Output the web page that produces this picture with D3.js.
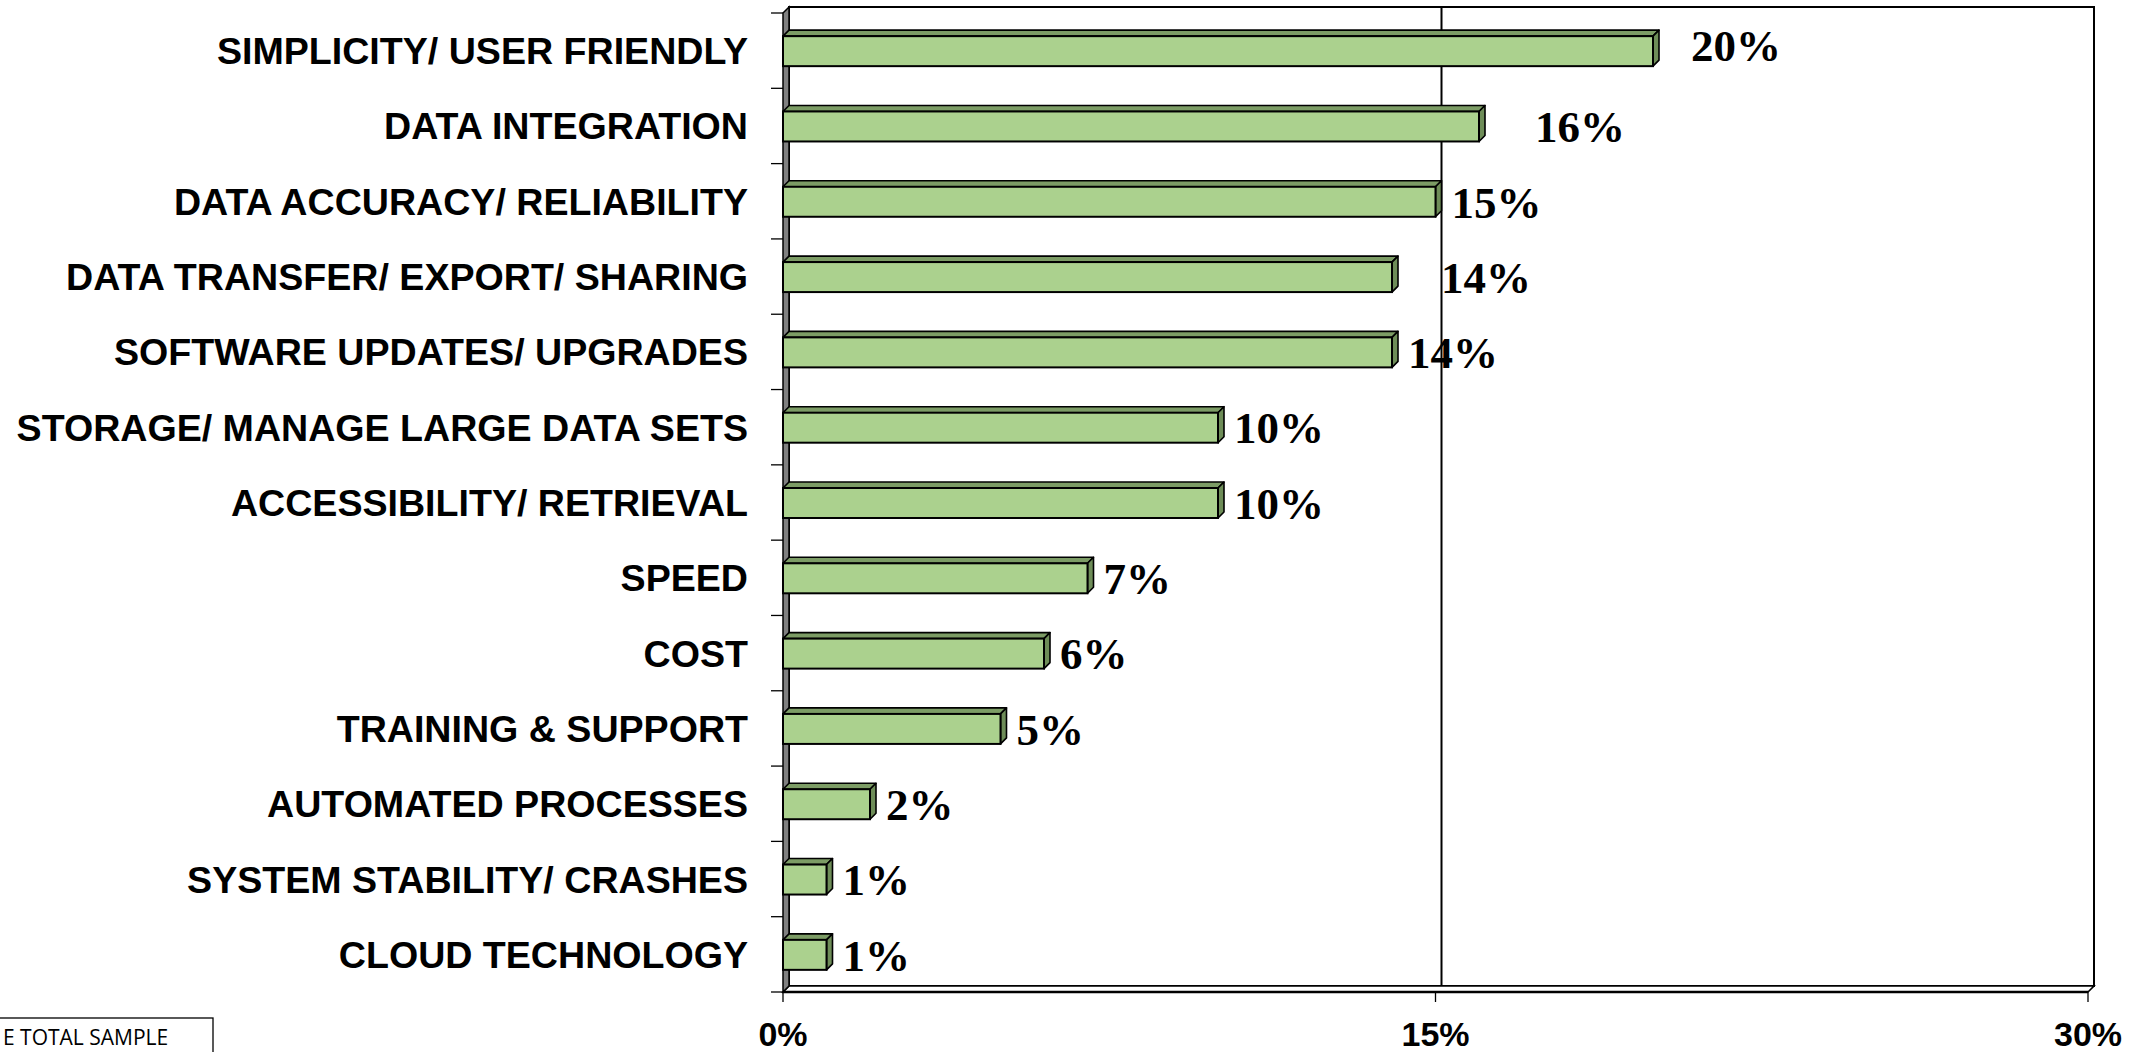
<!DOCTYPE html>
<html>
<head>
<meta charset="utf-8">
<script src="https://cdn.jsdelivr.net/npm/d3@7/dist/d3.min.js"></script>
<style>
  html, body { margin: 0; padding: 0; background: #ffffff; overflow: hidden; }
  svg { display: block; }
</style>
</head>
<body>
<svg id="chart" width="2138" height="1052"></svg>
<script>
// Reasons / attributes, top to bottom
const categories = [
  "SIMPLICITY/ USER FRIENDLY",
  "DATA INTEGRATION",
  "DATA ACCURACY/ RELIABILITY",
  "DATA TRANSFER/ EXPORT/ SHARING",
  "SOFTWARE UPDATES/ UPGRADES",
  "STORAGE/ MANAGE LARGE DATA SETS",
  "ACCESSIBILITY/ RETRIEVAL",
  "SPEED",
  "COST",
  "TRAINING & SUPPORT",
  "AUTOMATED PROCESSES",
  "SYSTEM STABILITY/ CRASHES",
  "CLOUD TECHNOLOGY"
];
// Share of total sample (%)
const values = [20, 16, 15, 14, 14, 10, 10, 7, 6, 5, 2, 1, 1];
const xTicks = [0, 15, 30];
const xTickLabels = ["0%", "15%", "30%"];
const baseNote = "E TOTAL SAMPLE";

const svg = d3.select("#chart");

// Plot geometry (front plane) and 3-D depth offset
const plotLeft = 783, plotRight = 2088, plotTop = 13, plotBottom = 992;
const dx = 6, dy = 6;

const x = d3.scaleLinear().domain([0, 30]).range([plotLeft, plotRight]);
const y = d3.scaleBand().domain(categories).range([plotTop, plotBottom]).padding(0);

const frontFill = "#abd18e", topFill = "#7c9c65", sideFill = "#6e8d58";
const ink = "#000000";

// Back wall
svg.append("rect")
  .attr("x", plotLeft + dx).attr("y", plotTop - dy)
  .attr("width", plotRight - plotLeft).attr("height", plotBottom - plotTop)
  .attr("fill", "#fff").attr("stroke", ink).attr("stroke-width", 2);

// Gridlines on the back wall and floor
xTicks.filter(t => t > 0 && t < 30).forEach(t => {
  const gx = x(t);
  svg.append("line")
    .attr("x1", gx + dx).attr("x2", gx + dx)
    .attr("y1", plotTop - dy).attr("y2", plotBottom - dy)
    .attr("stroke", ink).attr("stroke-width", 2);
  svg.append("line")
    .attr("x1", gx + dx).attr("x2", gx)
    .attr("y1", plotBottom - dy).attr("y2", plotBottom)
    .attr("stroke", ink).attr("stroke-width", 1.5);
});

// Floor
svg.append("path")
  .attr("d", `M${plotLeft},${plotBottom} L${plotRight},${plotBottom} L${plotRight + dx},${plotBottom - dy} L${plotLeft + dx},${plotBottom - dy} Z`)
  .attr("fill", "#fff").attr("stroke", ink).attr("stroke-width", 1.6);
svg.append("line")
  .attr("x1", plotLeft).attr("x2", plotRight).attr("y1", plotBottom).attr("y2", plotBottom)
  .attr("stroke", ink).attr("stroke-width", 2.5);

// Left wall
svg.append("path")
  .attr("d", `M${plotLeft},${plotTop} L${plotLeft + dx},${plotTop - dy} L${plotLeft + dx},${plotBottom - dy} L${plotLeft},${plotBottom} Z`)
  .attr("fill", "#808080").attr("stroke", ink).attr("stroke-width", 1.5);

// Category axis ticks (band boundaries)
const boundaries = categories.map(c => y(c)).concat([plotBottom]);
svg.append("g").selectAll("line").data(boundaries).join("line")
  .attr("x1", plotLeft - 12).attr("x2", plotLeft)
  .attr("y1", d => d).attr("y2", d => d)
  .attr("stroke", ink).attr("stroke-width", 1.3);

// Value axis ticks
svg.append("g").selectAll("line").data(xTicks).join("line")
  .attr("x1", d => x(d)).attr("x2", d => x(d))
  .attr("y1", plotBottom).attr("y2", plotBottom + 10)
  .attr("stroke", ink).attr("stroke-width", 1.3);

// Value axis labels
svg.append("g").selectAll("text").data(xTicks).join("text")
  .attr("x", d => x(d)).attr("y", 1046)
  .attr("text-anchor", "middle")
  .attr("font-family", "'Liberation Sans', Arial, sans-serif")
  .attr("font-weight", "bold").attr("font-size", 34)
  .text((d, i) => xTickLabels[i]);

// Category labels
svg.append("g").selectAll("text").data(categories).join("text")
  .attr("x", 748).attr("y", d => y(d) + y.bandwidth() / 2)
  .attr("dy", "0.36em")
  .attr("text-anchor", "end")
  .attr("font-family", "'Liberation Sans', Arial, sans-serif")
  .attr("font-weight", "bold").attr("font-size", 37.6)
  .text(d => d);

// 3-D bars
const barH = 30;
const bars = svg.append("g").selectAll("g").data(categories.map((c, i) => ({ c, v: values[i] }))).join("g");
bars.each(function(d) {
  const g = d3.select(this);
  const y0 = y(d.c) + y.bandwidth() / 2 - barH / 2 + 0.5;
  const x1 = x(d.v);
  g.append("path")
    .attr("d", `M${plotLeft},${y0} L${plotLeft + dx},${y0 - dy} L${x1 + dx},${y0 - dy} L${x1},${y0} Z`)
    .attr("fill", topFill).attr("stroke", ink).attr("stroke-width", 1.6).attr("stroke-linejoin", "round");
  g.append("path")
    .attr("d", `M${x1},${y0} L${x1 + dx},${y0 - dy} L${x1 + dx},${y0 + barH - dy} L${x1},${y0 + barH} Z`)
    .attr("fill", sideFill).attr("stroke", ink).attr("stroke-width", 1.6).attr("stroke-linejoin", "round");
  g.append("rect")
    .attr("x", plotLeft).attr("y", y0).attr("width", x1 - plotLeft).attr("height", barH)
    .attr("fill", frontFill).attr("stroke", ink).attr("stroke-width", 2);
});

// Data labels; a few are moved off their default spot beside the bar
const labelNudgeX = { 0: 22, 1: 40, 3: 33 };
const labelNudgeY = { 0: -6 };
svg.append("g").selectAll("text").data(values).join("text")
  .attr("x", (d, i) => x(d) + dx + 10 + (labelNudgeX[i] || 0))
  .attr("y", (d, i) => y(categories[i]) + y.bandwidth() / 2 + 1 + (labelNudgeY[i] || 0))
  .attr("dy", "0.34em")
  .attr("font-family", "'Liberation Serif', 'Times New Roman', serif")
  .attr("font-weight", "bold").attr("font-size", 45)
  .text(d => d + "%");

// Base note box (bottom left)
svg.append("rect")
  .attr("x", -2).attr("y", 1018).attr("width", 215).attr("height", 50)
  .attr("fill", "#fff").attr("stroke", ink).attr("stroke-width", 1.3);
svg.append("text")
  .attr("x", 3).attr("y", 1045)
  .attr("font-family", "'Open Sans', 'Liberation Sans', sans-serif")
  .attr("font-size", 21)
  .text(baseNote);
</script>
</body>
</html>
